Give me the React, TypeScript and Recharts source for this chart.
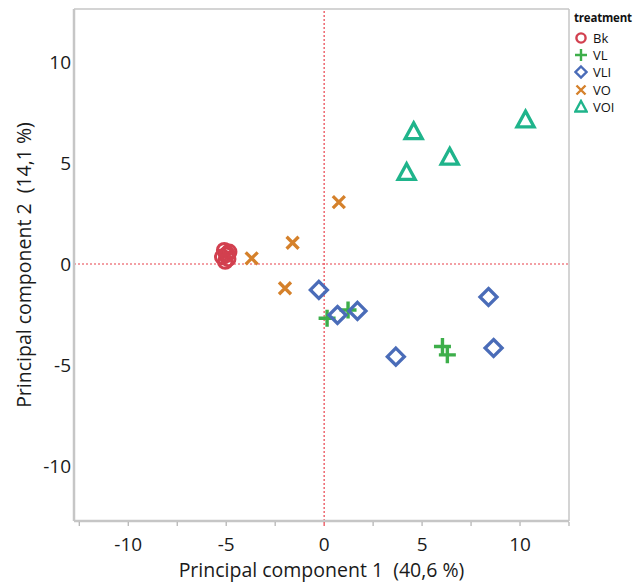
import React from "react";
import {
  ScatterChart,
  Scatter,
  XAxis,
  YAxis,
  ReferenceLine,
} from "recharts";

// ---- data ----
const bk = [
  { x: -5.1, y: 0.68 },
  { x: -4.85, y: 0.6 },
  { x: -5.0, y: 0.45 },
  { x: -5.2, y: 0.35 },
  { x: -4.9, y: 0.25 },
  { x: -5.05, y: 0.12 },
  { x: -4.95, y: 0.5 },
];
const vl = [
  { x: 0.15, y: -2.68 },
  { x: 1.22, y: -2.27 },
  { x: 6.04, y: -4.08 },
  { x: 6.29, y: -4.49 },
];
const vli = [
  { x: -0.27, y: -1.28 },
  { x: 0.68, y: -2.52 },
  { x: 1.7, y: -2.32 },
  { x: 3.66, y: -4.58 },
  { x: 8.39, y: -1.63 },
  { x: 8.65, y: -4.15 },
];
const vo = [
  { x: -3.7, y: 0.28 },
  { x: -1.61, y: 1.05 },
  { x: -2.0, y: -1.2 },
  { x: 0.75, y: 3.06 },
];
const voi = [
  { x: 4.57, y: 6.53 },
  { x: 6.41, y: 5.27 },
  { x: 4.21, y: 4.51 },
  { x: 10.28, y: 7.11 },
];

const xDomain = [-12.77, 12.5];
const yDomain = [-12.7, 12.6];
const xTicks = [-12.5, -10, -7.5, -5, -2.5, 0, 2.5, 5, 7.5, 10, 12.5];
const yTicks = [-10, -5, 0, 5, 10];
const xTitle = "Principal component 1\u00a0 (40,6 %)";
const yTitle = "Principal component 2\u00a0 (14,1 %)";
const legendTitle = "treatment";

const COLORS = {
  Bk: "#d2404f",
  VL: "#3dae4a",
  VLI: "#4a6cb8",
  VO: "#d5812b",
  VOI: "#1fb48b",
};

const FONT = "'Open Sans', 'Noto Sans', sans-serif";
const FRAME = "#c6c6c6";
const TICK_FS = 19;
const TITLE_FS = 19.5;

// ---- marker shapes ----
function CircleMark(size: number, sw: number) {
  return (p: any) => (
    <circle cx={p.cx} cy={p.cy} r={size} fill="none" stroke={COLORS.Bk} strokeWidth={sw} />
  );
}
function PlusMark(size: number, sw: number) {
  return (p: any) => (
    <path
      d={`M${p.cx - size},${p.cy}H${p.cx + size}M${p.cx},${p.cy - size}V${p.cy + size}`}
      stroke={COLORS.VL}
      strokeWidth={sw}
      fill="none"
    />
  );
}
function DiamondMark(size: number, sw: number) {
  return (p: any) => (
    <path
      d={`M${p.cx},${p.cy - size}L${p.cx + size},${p.cy}L${p.cx},${p.cy + size}L${p.cx - size},${p.cy}Z`}
      stroke={COLORS.VLI}
      strokeWidth={sw}
      fill="none"
    />
  );
}
function CrossMark(size: number, sw: number) {
  return (p: any) => (
    <path
      d={`M${p.cx - size},${p.cy - size}L${p.cx + size},${p.cy + size}M${p.cx - size},${p.cy + size}L${p.cx + size},${p.cy - size}`}
      stroke={COLORS.VO}
      strokeWidth={sw}
      fill="none"
    />
  );
}
function TriangleMark(size: number, sw: number) {
  return (p: any) => (
    <path
      d={`M${p.cx},${p.cy - size}L${p.cx + size * 0.95},${p.cy + size * 0.75}L${p.cx - size * 0.95},${p.cy + size * 0.75}Z`}
      stroke={COLORS.VOI}
      strokeWidth={sw}
      strokeLinejoin="miter"
      fill="none"
    />
  );
}

const series = [
  { name: "Bk", data: bk, shape: CircleMark, big: [6.8, 3], small: [4.6, 2.4] },
  { name: "VL", data: vl, shape: PlusMark, big: [8.5, 3.4], small: [6, 2.4] },
  { name: "VLI", data: vli, shape: DiamondMark, big: [8.5, 3.3], small: [5.5, 2.4] },
  { name: "VO", data: vo, shape: CrossMark, big: [6, 3.3], small: [4.5, 2.4] },
  { name: "VOI", data: voi, shape: TriangleMark, big: [9, 3.3], small: [6, 2.4] },
];

// ---- axis ticks ----
const XTick = (p: any) => {
  const v = p.payload.value;
  const labeled = Math.abs(v % 5) < 1e-9;
  return (
    <g>
      <line
        x1={p.x}
        x2={p.x}
        y1={p.y + 1}
        y2={p.y + 5}
        stroke={v === 0 ? "#e8404a" : "#b0b0b0"}
        strokeWidth={1.2}
      />
      {labeled && (
        <text
          x={p.x}
          y={p.y + 30}
          textAnchor="middle"
          fontFamily={FONT}
          fontSize={TICK_FS}
          fill="#1a1a1a"
        >
          {v}
        </text>
      )}
    </g>
  );
};

const YTick = (p: any) => (
  <text
    x={p.x}
    y={p.y + 7}
    textAnchor="end"
    fontFamily={FONT}
    fontSize={TICK_FS}
    fill="#1a1a1a"
  >
    {p.payload.value}
  </text>
);

const LegendBox = () => (
  <div
    style={{
      position: "absolute",
      left: 574,
      top: 10,
      width: 64,
      fontFamily: FONT,
      color: "#111",
    }}
  >
    <div
      style={{
        fontWeight: 700,
        fontSize: 11.5,
        lineHeight: "16px",
        marginBottom: 3,
        letterSpacing: -0.2,
        whiteSpace: "nowrap",
      }}
    >
      {legendTitle}
    </div>
    {series.map((s) => (
      <div
        key={s.name}
        style={{ display: "flex", alignItems: "center", height: 17.3, fontSize: 13 }}
      >
        <svg width={14} height={16} style={{ marginRight: 5 }}>
          {s.shape(s.small[0], s.small[1])({ cx: 7, cy: 8 })}
        </svg>
        <span>{s.name}</span>
      </div>
    ))}
  </div>
);

export default function App() {
  return (
    <div style={{ position: "absolute", left: 0, top: 0, width: 638, height: 583, background: "#fff" }}>
      <ScatterChart
        width={638}
        height={583}
        margin={{ top: 9, right: 69, bottom: 0, left: 0 }}
      >
        <XAxis
          type="number"
          dataKey="x"
          domain={xDomain}
          ticks={xTicks}
          interval={0}
          allowDataOverflow
          tick={<XTick />}
          tickLine={false}
          tickSize={0}
          tickMargin={0}
          axisLine={{ stroke: FRAME, strokeWidth: 2.5 }}
          height={62}
          label={{
            value: xTitle,
            position: "insideBottom",
            offset: 6,
            style: { fontFamily: FONT, fontSize: TITLE_FS, fill: "#1a1a1a" },
          }}
        />
        <YAxis
          type="number"
          dataKey="y"
          domain={yDomain}
          ticks={yTicks}
          interval={0}
          allowDataOverflow
          tick={<YTick />}
          tickLine={false}
          tickSize={0}
          tickMargin={3}
          axisLine={{ stroke: FRAME, strokeWidth: 2.5 }}
          width={74}
          label={{
            value: yTitle,
            angle: -90,
            position: "insideLeft",
            offset: 24,
            style: { fontFamily: FONT, fontSize: TITLE_FS, fill: "#1a1a1a", textAnchor: "middle" },
          }}
        />
        <ReferenceLine y={yDomain[1]} stroke={FRAME} strokeWidth={1.5} ifOverflow="visible" />
        <ReferenceLine x={xDomain[1]} stroke={FRAME} strokeWidth={1.5} ifOverflow="visible" />
        <ReferenceLine x={0} stroke="#e8404a" strokeWidth={1.2} strokeDasharray="2 2" />
        <ReferenceLine y={0} stroke="#e8404a" strokeWidth={1.2} strokeDasharray="2 2" />
        {series.map((s) => (
          <Scatter
            key={s.name}
            name={s.name}
            data={s.data}
            shape={s.shape(s.big[0], s.big[1])}
            isAnimationActive={false}
          />
        ))}
      </ScatterChart>
      <LegendBox />
    </div>
  );
}
